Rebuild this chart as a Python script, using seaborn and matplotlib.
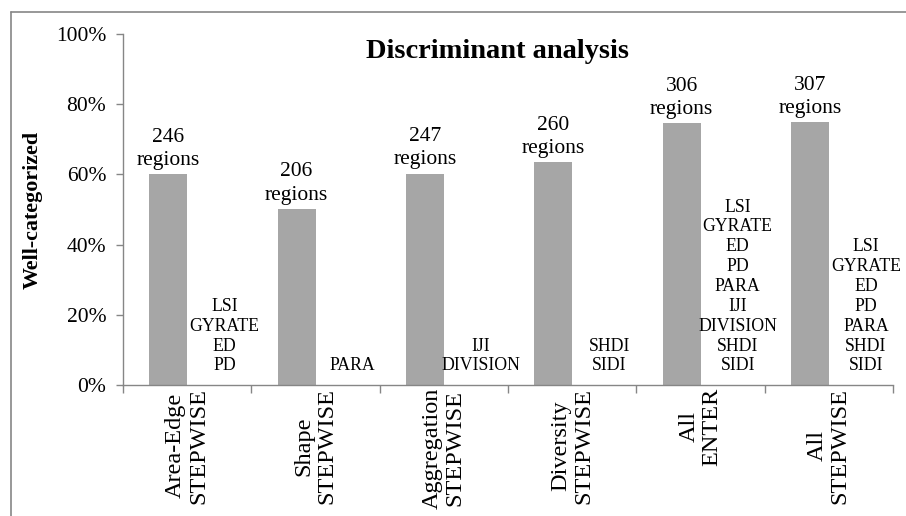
import numpy as np
import pandas as pd
import matplotlib
matplotlib.use('Agg')
import matplotlib.pyplot as plt
from matplotlib.lines import Line2D
import seaborn as sns

# Data
methods = ['Area-Edge\nSTEPWISE', 'Shape\nSTEPWISE', 'Aggregation\nSTEPWISE',
           'Diversity\nSTEPWISE', 'All\nENTER', 'All\nSTEPWISE']
well_categorized = [0.600, 0.502, 0.602, 0.634, 0.746, 0.749]
region_counts = [246, 206, 247, 260, 306, 307]
variables = [
    ['LSI', 'GYRATE', 'ED', 'PD'],
    ['PARA'],
    ['IJI', 'DIVISION'],
    ['SHDI', 'SIDI'],
    ['LSI', 'GYRATE', 'ED', 'PD', 'PARA', 'IJI', 'DIVISION', 'SHDI', 'SIDI'],
    ['LSI', 'GYRATE', 'ED', 'PD', 'PARA', 'SHDI', 'SIDI'],
]
y_ticks = [0.0, 0.2, 0.4, 0.6, 0.8, 1.0]

sns.set_theme(style='white')
plt.rcParams['font.family'] = ['Liberation Serif', 'DejaVu Serif']
plt.rcParams['text.color'] = 'black'
plt.rcParams['axes.labelcolor'] = 'black'
plt.rcParams['xtick.labelcolor'] = 'black'
plt.rcParams['ytick.labelcolor'] = 'black'

AXIS_GRAY = '#868686'
BAR_GRAY = '#a6a6a6'

# second (empty) series only holds the place of the variable labels
df = pd.DataFrame({
    'method': methods * 2,
    'series': ['rate'] * len(methods) + ['vars'] * len(methods),
    'value': well_categorized + [0.0] * len(methods),
})

fig = plt.figure(figsize=(9.06, 5.16), dpi=100)
ax = fig.add_axes([123 / 906, 1 - 385 / 516, 770 / 906, 351 / 516])

sns.barplot(data=df, x='method', y='value', hue='series', hue_order=['rate', 'vars'],
            palette={'rate': BAR_GRAY, 'vars': (1, 1, 1, 0)}, width=0.59,
            linewidth=0, legend=False, ax=ax)

bar_off = 0.59 / 4
for i, (v, n) in enumerate(zip(well_categorized, region_counts)):
    ax.text(i - bar_off, v + 0.012, f'{n}\nregions', ha='center', va='bottom',
            fontsize=15.5, linespacing=1.3)
    ax.text(i + 0.29, 0.03, '\n'.join(variables[i]), ha='center', va='bottom',
            multialignment='center', fontsize=12.8, linespacing=1.22)

ax.set_xlim(-0.5, len(methods) - 0.5)
ax.set_ylim(0, 1.0)
ax.set_yticks(y_ticks)
ax.set_yticklabels([f'{int(round(t * 100))}%' for t in y_ticks], fontsize=15.5)
ax.tick_params(axis='y', which='major', direction='out', length=5, width=1,
               color=AXIS_GRAY, pad=7, left=True)

ax.set_xticks(range(len(methods)))
ax.set_xticklabels(methods, rotation=90, fontsize=17.5, va='top', ha='center',
                   multialignment='center', linespacing=1.12)
ax.tick_params(axis='x', which='major', length=0, pad=2)
ax.set_xticks(np.arange(-0.5, len(methods), 1.0), minor=True)
ax.tick_params(axis='x', which='minor', direction='out', length=6, width=1,
               color=AXIS_GRAY, bottom=True)

for side in ['top', 'right']:
    ax.spines[side].set_visible(False)
for side in ['left', 'bottom']:
    ax.spines[side].set_color(AXIS_GRAY)
    ax.spines[side].set_linewidth(1)

ax.set_xlabel('')
ax.set_ylabel('Well-categorized', fontsize=15.8, fontweight='bold')
ax.yaxis.set_label_coords(-0.104, 0.5)

ax.text(0.486, 0.949, 'Discriminant analysis', transform=ax.transAxes,
        ha='center', va='center', fontsize=20.5, fontweight='bold')

# outer chart-area border (cropped on right and bottom)
fig.add_artist(Line2D([10.5 / 906, 10.5 / 906], [0, 1 - 11.5 / 516],
                      transform=fig.transFigure, color=AXIS_GRAY, lw=1.2))
fig.add_artist(Line2D([10.5 / 906, 1], [1 - 11.5 / 516, 1 - 11.5 / 516],
                      transform=fig.transFigure, color=AXIS_GRAY, lw=1.2))

fig.savefig('out.png', dpi=100)
